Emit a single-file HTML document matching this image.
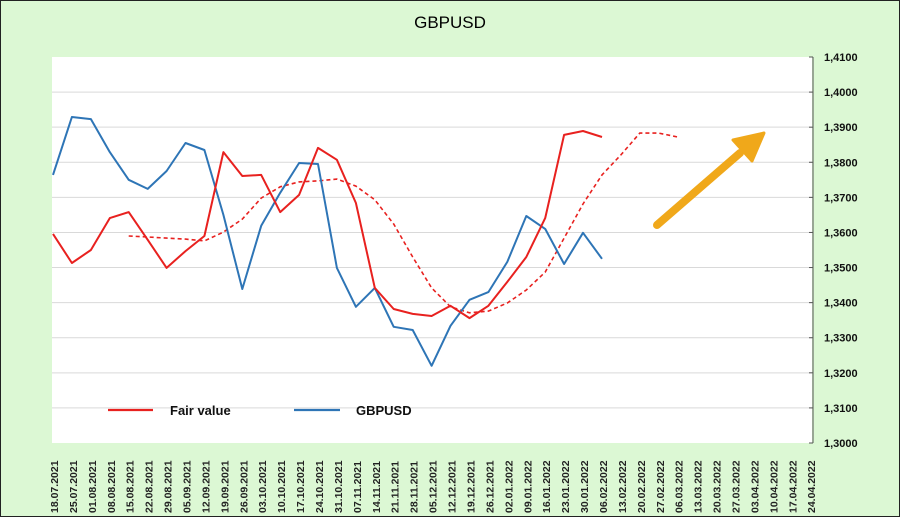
<!DOCTYPE html>
<html><head><meta charset="utf-8"><style>
html,body{margin:0;padding:0;background:#fff}
svg{display:block;font-family:"Liberation Sans",Verdana,sans-serif}
</style></head><body>
<svg id="chart" width="900" height="517">
<rect x="0.5" y="0.5" width="899" height="516" fill="#dcf8d4" stroke="#222"/>
<rect x="52" y="57" width="760" height="386" fill="#ffffff"/>
<text x="450" y="28" text-anchor="middle" font-size="17" fill="#000">GBPUSD</text>
<g id="grid"></g><g id="yaxis"></g><g id="xaxis"></g><g id="series"></g>
<g>
<line x1="108" y1="410" x2="153" y2="410" stroke="#e8211f" stroke-width="2.2"/>
<text x="170" y="415" font-size="13" font-weight="bold" fill="#111">Fair value</text>
<line x1="294" y1="410" x2="340" y2="410" stroke="#2e75b6" stroke-width="2.2"/>
<text x="356" y="415" font-size="13" font-weight="bold" fill="#111">GBPUSD</text>
</g>
<g>
<line x1="657" y1="225" x2="740" y2="153" stroke="#f0a81a" stroke-width="8" stroke-linecap="round"/>
<polygon points="764,133 752,161 733,140" fill="#f0a81a" stroke="#f0a81a" stroke-width="3" stroke-linejoin="round"/>
</g>
</svg>
<script>
const dates=["18.07.2021","25.07.2021","01.08.2021","08.08.2021","15.08.2021","22.08.2021","29.08.2021","05.09.2021","12.09.2021","19.09.2021","26.09.2021","03.10.2021","10.10.2021","17.10.2021","24.10.2021","31.10.2021","07.11.2021","14.11.2021","21.11.2021","28.11.2021","05.12.2021","12.12.2021","19.12.2021","26.12.2021","02.01.2022","09.01.2022","16.01.2022","23.01.2022","30.01.2022","06.02.2022","13.02.2022","20.02.2022","27.02.2022","06.03.2022","13.03.2022","20.03.2022","27.03.2022","03.04.2022","10.04.2022","17.04.2022","24.04.2022"];
const gbpusd=[1.3764,1.3929,1.3923,1.3829,1.3750,1.3724,1.3775,1.3855,1.3835,1.3650,1.3439,1.3619,1.3713,1.3798,1.3795,1.3499,1.3388,1.3442,1.3331,1.3322,1.3220,1.3334,1.3408,1.3430,1.3516,1.3647,1.3610,1.3510,1.3599,1.3525];
const fairValue=[1.3596,1.3513,1.3550,1.3641,1.3658,1.3579,1.3499,1.3547,1.3590,1.3829,1.3761,1.3764,1.3658,1.3707,1.3841,1.3807,1.3684,1.3442,1.3382,1.3368,1.3362,1.3391,1.3356,1.3391,1.3459,1.3530,1.3641,1.3878,1.3889,1.3872];
const fairAvgStart=4;
const fairAvg=[1.3590,1.3587,1.3584,1.3581,1.3576,1.3601,1.3638,1.3698,1.3730,1.3744,1.3747,1.3752,1.3732,1.3693,1.3624,1.3530,1.3442,1.3388,1.3371,1.3376,1.3399,1.3436,1.3487,1.3584,1.3681,1.3764,1.3821,1.3883,1.3883,1.3872];
const yTicks=[1.30,1.31,1.32,1.33,1.34,1.35,1.36,1.37,1.38,1.39,1.40,1.41];

const NS="http://www.w3.org/2000/svg";
const yMin=1.30,yMax=1.41,yTop=57,yBot=443;
function y(v){return yBot-(v-yMin)/(yMax-yMin)*(yBot-yTop);}
function x(i){return 53+i*18.93;}
function mk(tag,attrs,parent){const e=document.createElementNS(NS,tag);for(const k in attrs)e.setAttribute(k,attrs[k]);parent.appendChild(e);return e;}
const grid=document.getElementById('grid'),ya=document.getElementById('yaxis'),xa=document.getElementById('xaxis'),se=document.getElementById('series');
yTicks.forEach(t=>{
  const yy=y(t);
  if(t>yMin+1e-9&&t<yMax-1e-9){const g=mk('line',{x1:52,x2:812,y1:yy,y2:yy,stroke:'#d9d9d9','stroke-width':1},grid);
  
  }
  const tk=mk('line',{x1:809,x2:813,y1:yy,y2:yy,stroke:'#555'},ya);
  
  
  const tx=mk('text',{x:824,y:yy+4,'font-size':11,'font-weight':'bold',fill:'#111'},ya);
  tx.textContent=t.toFixed(4).replace('.',',');
  
  
});
const ax=mk('line',{x1:813,x2:813,y1:yTop,y2:yBot,stroke:'#555'},ya);


dates.forEach((d,i)=>{
  const tx=mk('text',{transform:`translate(${x(i)+5},${513}) rotate(-90)`,'font-size':10.5,'font-weight':'bold',fill:'#222'},xa);
  tx.textContent=d;
  
  
});
function pts(arr,off){return arr.map((v,i)=>x(i+off).toFixed(1)+','+y(v).toFixed(1)).join(' ');}
const avg=mk('polyline',{points:pts(fairAvg,fairAvgStart),fill:'none',stroke:'#e8211f','stroke-width':1.6,'stroke-dasharray':'4,3'},se);


const bl=mk('polyline',{points:pts(gbpusd,0),fill:'none',stroke:'#2e75b6','stroke-width':2,'stroke-linejoin':'round'},se);


const rl=mk('polyline',{points:pts(fairValue,0),fill:'none',stroke:'#e8211f','stroke-width':2,'stroke-linejoin':'round'},se);


</script>
</body></html>
